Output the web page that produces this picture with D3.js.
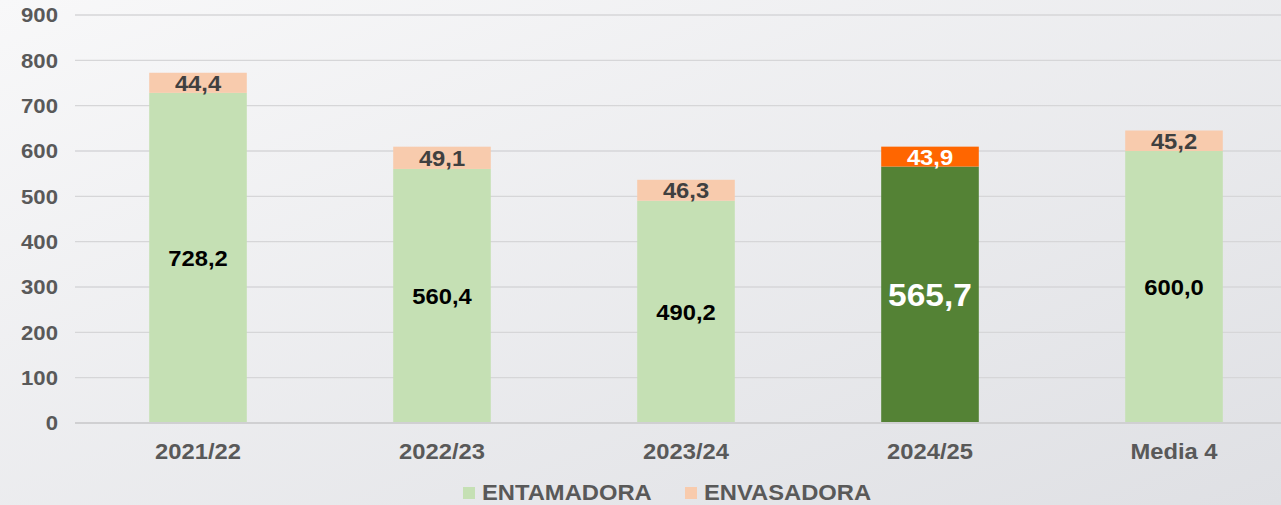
<!DOCTYPE html>
<html>
<head>
<meta charset="utf-8">
<script src="https://cdn.jsdelivr.net/npm/d3@7"></script>
<style>
  html, body { margin: 0; padding: 0; }
  svg { display: block; font-family: "Liberation Sans", Arial, sans-serif; }
</style>
</head>
<body>
<svg width="1281" height="505"></svg>
<script>
var categories = ["2021/22", "2022/23", "2023/24", "2024/25", "Media 4"];
var entamadora = [728.2, 560.4, 490.2, 565.7, 600.0];
var envasadora = [44.4, 49.1, 46.3, 43.9, 45.2];
var yTicks = [0, 100, 200, 300, 400, 500, 600, 700, 800, 900];
var seriesNames = ["ENTAMADORA", "ENVASADORA"];
var highlight = "2024/25";

var svg = d3.select('svg');
var width = 1281, height = 505;

// background gradient
var defs = svg.append('defs');
var grad = defs.append('linearGradient').attr('id', 'bg')
    .attr('x1', '0%').attr('y1', '0%').attr('x2', '100%').attr('y2', '100%');
grad.append('stop').attr('offset', '0%').attr('stop-color', '#f8f8f9');
grad.append('stop').attr('offset', '100%').attr('stop-color', '#dfe0e4');
svg.append('rect').attr('width', width).attr('height', height).attr('fill', 'url(#bg)');

var x = d3.scaleBand().domain(categories).range([76, 1296]).paddingInner(0.6).paddingOuter(0.3);
var y = d3.scaleLinear().domain([0, 900]).range([423, 15]);

// text in the original is a bit wider than Liberation Sans
var stretch = 1.08;

// gridlines
svg.append('g').selectAll('line').data(yTicks.filter(function(d) { return d > 0; }))
    .enter().append('line')
    .attr('x1', 75).attr('x2', width)
    .attr('y1', function(d) { return y(d); })
    .attr('y2', function(d) { return y(d); })
    .attr('stroke', '#d6d6d8').attr('stroke-width', 1.3);

// y tick labels
svg.append('g').selectAll('text').data(yTicks).enter().append('text')
    .attr('transform', function(d) { return 'translate(58,' + y(d) + ') scale(' + stretch + ',1)'; })
    .attr('dy', '0.35em').attr('text-anchor', 'end')
    .attr('font-size', 20.5).attr('font-weight', 'bold').attr('fill', '#595959')
    .text(function(d) { return d; });

var colours = {
    normal: ["#c5e0b4", "#f8cbad"],
    hi: ["#548235", "#ff6600"]
};

var fmt = function(v) { return v.toFixed(1).replace('.', ','); };

var bars = svg.append('g').selectAll('g').data(categories).enter().append('g');

bars.append('rect')
    .attr('x', function(d) { return x(d); })
    .attr('width', x.bandwidth())
    .attr('y', function(d, i) { return y(entamadora[i]); })
    .attr('height', function(d, i) { return y(0) - y(entamadora[i]); })
    .attr('fill', function(d) { return d === highlight ? colours.hi[0] : colours.normal[0]; });

bars.append('rect')
    .attr('x', function(d) { return x(d); })
    .attr('width', x.bandwidth())
    .attr('y', function(d, i) { return y(entamadora[i] + envasadora[i]); })
    .attr('height', function(d, i) { return y(entamadora[i]) - y(entamadora[i] + envasadora[i]); })
    .attr('fill', function(d) { return d === highlight ? colours.hi[1] : colours.normal[1]; });

// labels inside the green segment
bars.append('text')
    .attr('transform', function(d, i) {
        return 'translate(' + (x(d) + x.bandwidth() / 2) + ',' + ((y(0) + y(entamadora[i])) / 2) + ') scale(' + stretch + ',1)';
    })
    .attr('dy', '0.36em').attr('text-anchor', 'middle').attr('font-weight', 'bold')
    .attr('font-size', function(d) { return d === highlight ? 31 : 22; })
    .attr('fill', function(d) { return d === highlight ? '#ffffff' : '#000000'; })
    .text(function(d, i) { return fmt(entamadora[i]); });

// labels on the top segment
bars.append('text')
    .attr('transform', function(d, i) {
        return 'translate(' + (x(d) + x.bandwidth() / 2) + ',' + ((y(entamadora[i]) + y(entamadora[i] + envasadora[i])) / 2) + ') scale(' + stretch + ',1)';
    })
    .attr('dy', '0.36em').attr('text-anchor', 'middle').attr('font-weight', 'bold')
    .attr('font-size', 22)
    .attr('fill', function(d) { return d === highlight ? '#ffffff' : '#404040'; })
    .text(function(d, i) { return fmt(envasadora[i]); });

// baseline
svg.append('line').attr('x1', 75).attr('x2', width)
    .attr('y1', y(0)).attr('y2', y(0))
    .attr('stroke', '#d0d0d2').attr('stroke-width', 2);

// category labels
svg.append('g').selectAll('text').data(categories).enter().append('text')
    .attr('transform', function(d) { return 'translate(' + (x(d) + x.bandwidth() / 2) + ',459) scale(' + stretch + ',1)'; })
    .attr('text-anchor', 'middle').attr('font-size', 22).attr('font-weight', 'bold')
    .attr('fill', '#595959')
    .text(function(d) { return d; });

// legend
var legendX = [463, 685];
var legend = svg.append('g').selectAll('g').data(seriesNames).enter().append('g')
    .attr('transform', function(d, i) { return 'translate(' + legendX[i] + ',487)'; });
legend.append('rect').attr('width', 12).attr('height', 12)
    .attr('fill', function(d, i) { return colours.normal[i]; });
legend.append('text').attr('transform', 'translate(19,12.5) scale(' + stretch + ',1)')
    .attr('font-size', 22).attr('font-weight', 'bold').attr('fill', '#595959')
    .text(function(d) { return d; });
</script>
</body>
</html>
